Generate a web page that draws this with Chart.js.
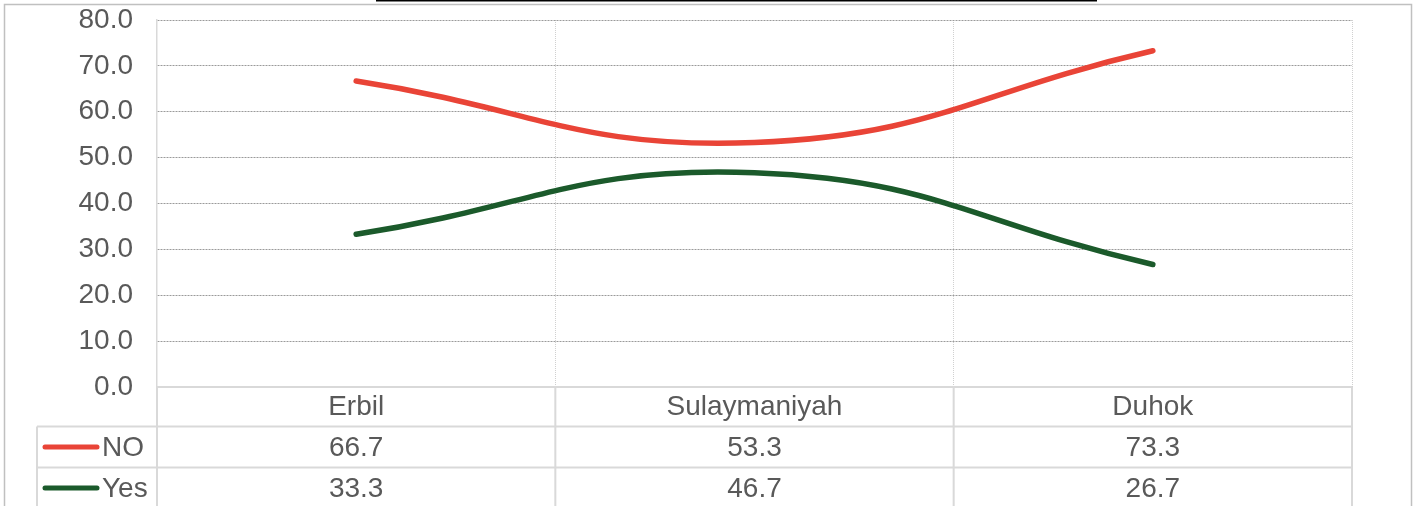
<!DOCTYPE html>
<html>
<head>
<meta charset="utf-8">
<script src="https://cdn.jsdelivr.net/npm/chart.js@4/dist/chart.umd.min.js"></script>
<style>
html,body{margin:0;padding:0;background:#fff;}
#wrap{position:relative;width:1418px;height:506px;}
</style>
</head>
<body>
<div id="wrap"><canvas id="c" width="1418" height="506"></canvas></div>
<script>
const categories = ['Erbil', 'Sulaymaniyah', 'Duhok'];
const seriesNames = ['NO', 'Yes'];
const noValues = [66.7, 53.3, 73.3];
const yesValues = [33.3, 46.7, 26.7];
const seriesColors = ['#E94437', '#1B5A2B'];
const yTickMin = 0, yTickMax = 80, yTickStep = 10;

const FONT = '"Liberation Sans", Arial, sans-serif';
const TEXT = '#595959';
const FS = 28;
const TABLE_LINE = '#d9d9d9';

const tablePlugin = {
  id: 'dataTable',
  beforeDraw(chart) {
    const ctx = chart.ctx;
    ctx.save();
    ctx.fillStyle = '#fff';
    ctx.fillRect(0, 0, chart.width, chart.height);
    ctx.strokeStyle = '#c0c0c0';
    ctx.lineWidth = 1.5;
    ctx.strokeRect(4.5, 4.5, 1407, 600);
    ctx.fillStyle = '#000';
    ctx.fillRect(376, 0, 721, 1.5);
    ctx.restore();
  },
  afterDraw(chart) {
    const ctx = chart.ctx;
    const x = chart.scales.x;
    const area = chart.chartArea;
    const n = categories.length;
    const cw = (area.right - area.left) / n;
    const top = area.bottom;
    const rowH = [39.5, 41, 41];
    const r1 = top + rowH[0];
    const r2 = r1 + rowH[1];
    const r3 = r2 + rowH[2];
    const legLeft = 37;
    ctx.save();
    ctx.strokeStyle = TABLE_LINE;
    ctx.lineWidth = 2;
    ctx.beginPath();
    ctx.moveTo(area.left, top); ctx.lineTo(area.right, top);
    ctx.moveTo(legLeft, r1); ctx.lineTo(area.right, r1);
    ctx.moveTo(legLeft, r2); ctx.lineTo(area.right, r2);
    for (let i = 0; i <= n; i++) {
      const px = area.left + i * cw;
      ctx.moveTo(px, top); ctx.lineTo(px, r3 + 5);
    }
    ctx.moveTo(legLeft, r1); ctx.lineTo(legLeft, r3 + 5);
    ctx.stroke();

    ctx.fillStyle = TEXT;
    ctx.font = FS + 'px ' + FONT;
    ctx.textAlign = 'center';
    ctx.textBaseline = 'middle';
    const rowsVals = [noValues, yesValues];
    const rowMid = [(top + r1) / 2 + 1, (r1 + r2) / 2 + 1, (r2 + r3) / 2 + 1];
    categories.forEach((c, i) => {
      const px = x.getPixelForValue(i);
      ctx.fillText(c, px, rowMid[0]);
      rowsVals.forEach((vals, k) => {
        ctx.fillText(vals[i].toFixed(1), px, rowMid[k + 1]);
      });
    });
    seriesNames.forEach((name, k) => {
      const cy = rowMid[k + 1] - 1;
      ctx.strokeStyle = seriesColors[k];
      ctx.lineWidth = 5;
      ctx.lineCap = 'round';
      ctx.beginPath();
      ctx.moveTo(45, cy); ctx.lineTo(97, cy);
      ctx.stroke();
      ctx.textAlign = 'left';
      ctx.fillStyle = TEXT;
      ctx.fillText(name, 102, rowMid[k + 1]);
    });
    ctx.restore();
  }
};

new Chart(document.getElementById('c'), {
  type: 'line',
  data: {
    labels: categories,
    datasets: [
      { label: seriesNames[0], data: noValues, borderColor: seriesColors[0], backgroundColor: seriesColors[0],
        borderWidth: 5.5, tension: 0.45, pointRadius: 0, borderCapStyle: 'round', fill: false },
      { label: seriesNames[1], data: yesValues, borderColor: seriesColors[1], backgroundColor: seriesColors[1],
        borderWidth: 5.5, tension: 0.45, pointRadius: 0, borderCapStyle: 'round', fill: false }
    ]
  },
  options: {
    responsive: false,
    animation: false,
    devicePixelRatio: 1,
    layout: { padding: { left: 0, right: 66, top: 20, bottom: 119 } },
    plugins: { legend: { display: false }, tooltip: { enabled: false }, title: { display: false } },
    scales: {
      x: {
        type: 'category',
        offset: true,
        grid: { offset: true, drawTicks: false, color: '#d0d0d0', lineWidth: 1 },
        border: { display: false, dash: [1, 1] },
        ticks: { display: false },
        afterFit(s) { s.height = 0; s.paddingLeft = 0; s.paddingRight = 0; }
      },
      y: {
        min: yTickMin, max: yTickMax,
        grid: { drawTicks: false, color: '#9a9a9a', lineWidth: 1 },
        border: { display: true, color: '#d9d9d9', width: 1.5, dash: [2, 1] },
        ticks: {
          stepSize: yTickStep, padding: 24, color: TEXT,
          font: { family: FONT, size: FS },
          callback: v => Number(v).toFixed(1)
        },
        afterFit(s) { s.width = 157; s.paddingTop = 0; s.paddingBottom = 0; }
      }
    }
  },
  plugins: [tablePlugin]
});
</script>
</body>
</html>
